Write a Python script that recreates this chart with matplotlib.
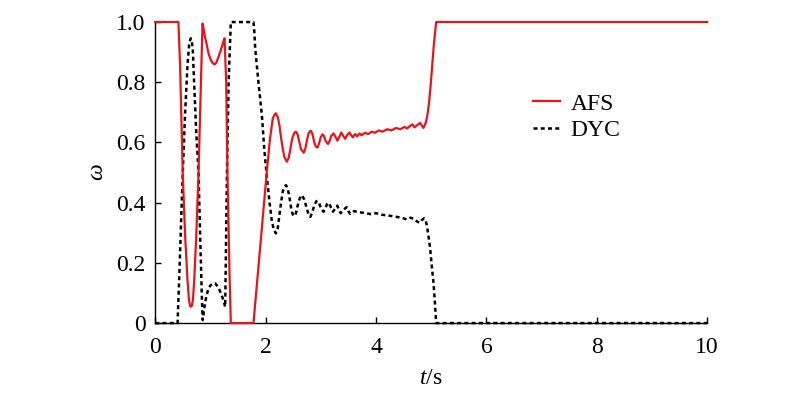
import matplotlib
matplotlib.use("Agg")
import matplotlib.pyplot as plt

# ---- data ----
afs_t = [0, 0.42, 0.45, 0.50, 0.543, 0.585, 0.61, 0.63, 0.647, 0.665, 0.685,
         0.707, 0.743, 0.785, 0.857, 0.88, 0.90, 0.935, 0.96, 0.996, 1.03,
         1.075, 1.11, 1.147, 1.18, 1.207, 1.235, 1.256, 1.286, 1.31, 1.345,
         1.37, 1.78, 1.90, 2.02, 2.08, 2.13, 2.16, 2.186, 2.22, 2.25, 2.28,
         2.31, 2.34, 2.385, 2.42, 2.45, 2.48, 2.52, 2.55, 2.58, 2.61, 2.64,
         2.69, 2.72, 2.75, 2.78, 2.82, 2.85, 2.88, 2.91, 2.94, 2.97, 3.00,
         3.03, 3.06, 3.09, 3.13, 3.16, 3.19, 3.23, 3.26, 3.30, 3.33, 3.37,
         3.40, 3.44, 3.48, 3.52, 3.55, 3.58, 3.62, 3.66, 3.70, 3.74, 3.80,
         3.86, 3.92, 3.98, 4.05, 4.12, 4.20, 4.28, 4.36, 4.44, 4.52, 4.56,
         4.62, 4.66, 4.70, 4.75, 4.80, 4.86, 4.90, 4.93, 4.96, 4.99, 5.02,
         5.05, 5.09, 10]
afs_w = [1.0, 1.0, 0.86, 0.49, 0.287, 0.143, 0.08, 0.058, 0.054, 0.058, 0.08,
         0.143, 0.287, 0.50, 0.995, 0.975, 0.952, 0.924, 0.900, 0.879, 0.866,
         0.859, 0.866, 0.885, 0.902, 0.918, 0.935, 0.946, 0.80, 0.49, 0.176,
         0.0, 0.0, 0.248, 0.50, 0.613, 0.68, 0.692, 0.697, 0.684, 0.658, 0.615,
         0.58, 0.552, 0.536, 0.55, 0.58, 0.612, 0.632, 0.636, 0.626, 0.602, 0.578,
         0.566, 0.58, 0.608, 0.632, 0.639, 0.627, 0.602, 0.586, 0.583, 0.598, 0.618,
         0.627, 0.620, 0.604, 0.595, 0.605, 0.622, 0.630, 0.621, 0.606, 0.616, 0.633,
         0.624, 0.612, 0.625, 0.633, 0.624, 0.617, 0.628, 0.620, 0.630, 0.624, 0.632,
         0.628, 0.636, 0.632, 0.640, 0.636, 0.644, 0.640, 0.648, 0.644, 0.652, 0.646,
         0.655, 0.660, 0.650, 0.658, 0.665, 0.648, 0.665, 0.69, 0.73, 0.79, 0.86,
         0.93, 1.0, 1.0]

dyc_t = [0, 0.405, 0.44, 0.47, 0.50, 0.54, 0.585, 0.615, 0.635, 0.645, 0.66,
         0.68, 0.705, 0.743, 0.785, 0.815, 0.845, 0.86, 0.89, 0.924, 0.96,
         1.00, 1.05, 1.087, 1.13, 1.165, 1.225, 1.268, 1.30, 1.33, 1.37, 1.78,
         1.795, 1.812, 1.87, 1.933, 1.975, 2.02, 2.07, 2.114, 2.15, 2.186, 2.22,
         2.25, 2.28, 2.31, 2.34, 2.37, 2.40, 2.43, 2.46, 2.49, 2.52, 2.55, 2.58,
         2.62, 2.66, 2.70, 2.74, 2.78, 2.81, 2.84, 2.88, 2.92, 2.94, 2.97, 3.01,
         3.05, 3.08, 3.11, 3.14, 3.17, 3.22, 3.26, 3.30, 3.33, 3.36, 3.42, 3.47,
         3.50, 3.53, 3.60, 3.70, 3.80, 3.90, 4.00, 4.10, 4.20, 4.30, 4.40, 4.50,
         4.56, 4.62, 4.68, 4.74, 4.79, 4.83, 4.87, 4.90, 4.92, 4.95, 4.98, 5.01,
         5.04, 5.07, 5.09, 10]
dyc_w = [0.0, 0.0, 0.176, 0.342, 0.50, 0.69, 0.857, 0.925, 0.942, 0.946, 0.94,
         0.912, 0.80, 0.636, 0.50, 0.287, 0.087, 0.01, 0.05, 0.087, 0.112,
         0.125, 0.132, 0.132, 0.122, 0.11, 0.082, 0.054, 0.50, 0.80, 1.0, 1.0,
         0.97, 0.912, 0.80, 0.69, 0.58, 0.49, 0.403, 0.337, 0.31, 0.298, 0.315,
         0.359, 0.40, 0.436, 0.452, 0.458, 0.448, 0.42, 0.385, 0.362, 0.355, 0.365, 0.39,
         0.415, 0.425, 0.41, 0.385, 0.36, 0.353, 0.365, 0.39, 0.405, 0.406, 0.398, 0.378,
         0.370, 0.380, 0.394, 0.40, 0.39, 0.37, 0.38, 0.39, 0.375, 0.365, 0.378, 0.385,
         0.372, 0.363, 0.372, 0.368, 0.366, 0.362, 0.365, 0.360, 0.358, 0.355, 0.352, 0.348,
         0.344, 0.35, 0.347, 0.338, 0.333, 0.342, 0.348, 0.34, 0.326, 0.29, 0.25, 0.19,
         0.137, 0.06, 0.0, 0.0]

x_ticks = [0, 2, 4, 6, 8, 10]
x_labels = ["0", "2", "4", "6", "8", "10"]
y_ticks = [0, 0.2, 0.4, 0.6, 0.8, 1.0]
y_labels = ["0", "0.2", "0.4", "0.6", "0.8", "1.0"]

plt.rcParams["font.family"] = ["Liberation Serif", "DejaVu Serif"]
plt.rcParams["mathtext.fontset"] = "custom"
plt.rcParams["mathtext.rm"] = "Liberation Serif"
plt.rcParams["mathtext.it"] = "Liberation Serif:italic"

fig = plt.figure(figsize=(8.0, 3.94), dpi=100)
ax = fig.add_axes([0.194, 0.180, 0.690, 0.764])

ax.plot(afs_t, afs_w, color="#e8141c", lw=1.6, label="AFS", clip_on=False,
        zorder=3, solid_joinstyle="round")
ax.plot(dyc_t, dyc_w, color="black", lw=1.8, ls=(0, (1.6, 1.3)), label="DYC",
        clip_on=False, zorder=2)

ax.set_xlim(0, 10)
ax.set_ylim(0, 1.0)
ax.set_xticks(x_ticks)
ax.set_xticklabels(x_labels)
ax.set_yticks(y_ticks)
ax.set_yticklabels(y_labels)
ax.spines["top"].set_visible(False)
ax.spines["right"].set_visible(False)
for s in ("left", "bottom"):
    ax.spines[s].set_linewidth(1.0)
ax.tick_params(direction="in", length=4, width=1.0, labelsize=17)
ax.tick_params(axis="x", pad=10)
ax.tick_params(axis="y", pad=7)

ax.set_xlabel("$t$/s", fontsize=17, labelpad=7)
ax.set_ylabel("$\\omega$", fontsize=17, labelpad=6)

leg = ax.legend(loc="upper left", bbox_to_anchor=(0.667, 0.795), frameon=False,
                fontsize=17, handlelength=1.15, handletextpad=0.45, labelspacing=0.2,
                borderaxespad=0)

fig.savefig("out.png", dpi=100)
